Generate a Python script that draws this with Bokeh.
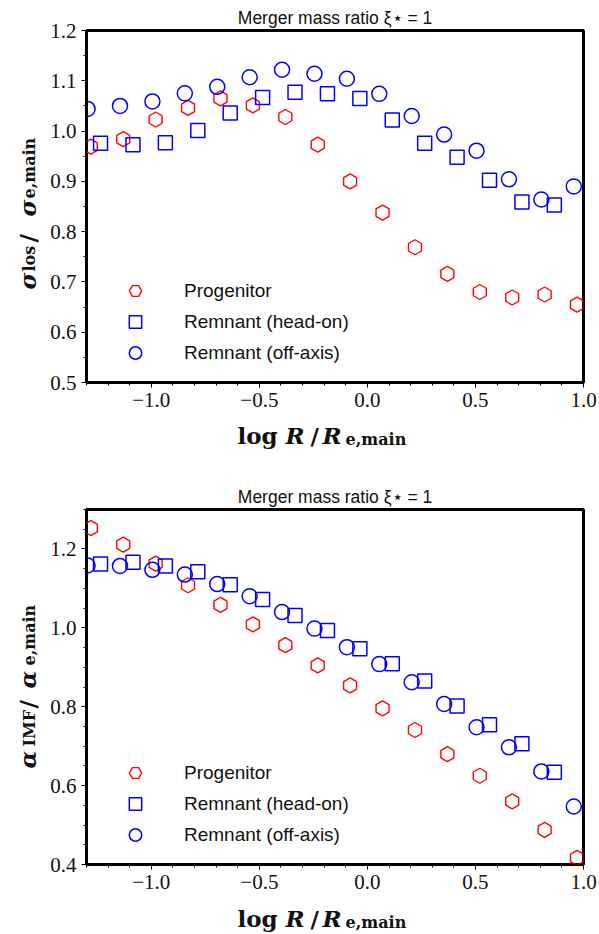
import numpy as np
from bokeh.plotting import figure
from bokeh.layouts import column, row
from bokeh.models import Range1d, FixedTicker, Label, Legend, LegendItem, Title
from bokeh.embed import file_html
from bokeh.resources import INLINE

# ---------------- data ----------------
logR_prog = [-1.28, -1.13, -0.98, -0.83, -0.68, -0.53, -0.38, -0.23, -0.08,
             0.07, 0.22, 0.37, 0.52, 0.67, 0.82, 0.97]
logR_head = [-1.235, -1.085, -0.935, -0.785, -0.635, -0.485, -0.335, -0.185,
             -0.035, 0.115, 0.265, 0.415, 0.565, 0.715, 0.865]
logR_off = [-1.295, -1.145, -0.995, -0.845, -0.695, -0.545, -0.395, -0.245,
            -0.095, 0.055, 0.205, 0.355, 0.505, 0.655, 0.805, 0.955]

sigma_prog = [0.969, 0.984, 1.023, 1.046, 1.065, 1.051, 1.028, 0.973, 0.900,
              0.838, 0.769, 0.716, 0.680, 0.669, 0.675, 0.655]
sigma_head = [0.976, 0.973, 0.977, 1.001, 1.036, 1.067, 1.077, 1.074, 1.065,
              1.022, 0.976, 0.948, 0.902, 0.859, 0.853]
sigma_off = [1.044, 1.050, 1.059, 1.075, 1.088, 1.107, 1.122, 1.114, 1.104,
             1.074, 1.030, 0.993, 0.961, 0.904, 0.864, 0.890]

alpha_prog = [1.253, 1.211, 1.163, 1.108, 1.058, 1.009, 0.956, 0.905, 0.854,
              0.796, 0.741, 0.680, 0.625, 0.560, 0.488, 0.417]
alpha_head = [1.162, 1.166, 1.157, 1.142, 1.109, 1.072, 1.031, 0.993, 0.947,
              0.909, 0.865, 0.802, 0.754, 0.706, 0.634]
alpha_off = [1.158, 1.157, 1.147, 1.135, 1.111, 1.080, 1.040, 0.998, 0.951,
             0.908, 0.862, 0.807, 0.748, 0.697, 0.636, 0.547]

series_names = ["Progenitor", "Remnant (head-on)", "Remnant (off-axis)"]
title_text = "Merger mass ratio \u03be\u22c6 = 1"

x_ticks = [-1.0, -0.5, 0.0, 0.5, 1.0]
x_tick_labels = ["\u22121.0", "\u22120.5", "0.0", "0.5", "1.0"]
y1_ticks = [0.5, 0.6, 0.7, 0.8, 0.9, 1.0, 1.1, 1.2]
y1_tick_labels = ["0.5", "0.6", "0.7", "0.8", "0.9", "1.0", "1.1", "1.2"]
y2_ticks = [0.4, 0.6, 0.8, 1.0, 1.2]
y2_tick_labels = ["0.4", "0.6", "0.8", "1.0", "1.2"]

RED = "#ff0000"
BLUE = "#0000ff"
SERIF = "Liberation Serif"
MATH = "DejaVu Serif"
SANS = "Liberation Sans"
TXT = "#111111"

PANEL_H = 467       # height of each of the two stacked panels
YLAB_W = 45         # width of the strip holding the vertical axis label
MAIN_W = 599 - YLAB_W
FRAME_LEFT = 86     # page x of the frame's left edge
FRAME_RIGHT = 583
BL = FRAME_LEFT - YLAB_W
BR = 599 - FRAME_RIGHT
MS, SS = 23, 16     # math main / subscript font sizes


def make_main(height, border_top, border_bottom, yr, yticks, ylabels, yminor):
    p = figure(width=MAIN_W, height=height, output_backend="svg", toolbar_location=None,
               x_range=Range1d(-1.3, 1.0), y_range=Range1d(*yr),
               min_border_left=BL, min_border_right=BR,
               min_border_top=border_top, min_border_bottom=border_bottom)
    p.grid.visible = False
    p.background_fill_color = "white"
    p.border_fill_color = "white"
    p.outline_line_color = "black"
    p.outline_line_width = 3
    p.xaxis.ticker = FixedTicker(ticks=x_ticks,
                                 minor_ticks=list(np.round(np.arange(-1.3, 1.0001, 0.1), 2)))
    p.xaxis.major_label_overrides = dict(zip(x_ticks, x_tick_labels))
    p.yaxis.ticker = FixedTicker(ticks=yticks, minor_ticks=yminor)
    p.yaxis.major_label_overrides = dict(zip(yticks, ylabels))
    for ax in (p.xaxis[0], p.yaxis[0]):
        ax.axis_line_color = None
        ax.major_tick_in = 0
        ax.major_tick_out = 5
        ax.minor_tick_in = 0
        ax.minor_tick_out = 3
        ax.major_tick_line_color = "black"
        ax.minor_tick_line_color = "black"
        ax.major_tick_line_width = 1
        ax.minor_tick_line_width = 1
        ax.major_label_text_font = SERIF
        ax.major_label_text_font_size = "21px"
        ax.major_label_text_color = TXT
        ax.major_label_standoff = 5
    t = Title(text=title_text, align="center", text_font=SANS, text_font_size="17.5px",
              text_font_style="normal", text_color=TXT, standoff=5)
    p.add_layout(t, "above")
    return p


def add_points(p, yp, yh, yo, legend_y):
    r1 = p.scatter(logR_prog, yp, marker="hex", size=15, angle=np.pi / 2,
                   fill_color=None, line_color=RED, line_width=1.4)
    r2 = p.scatter(logR_head, yh, marker="square", size=14,
                   fill_color=None, line_color=BLUE, line_width=1.5)
    r3 = p.scatter(logR_off, yo, marker="circle", size=15,
                   fill_color=None, line_color=BLUE, line_width=1.5)
    leg = Legend(items=[LegendItem(label=series_names[0], renderers=[r1]),
                        LegendItem(label=series_names[1], renderers=[r2]),
                        LegendItem(label=series_names[2], renderers=[r3])],
                 location=(30, legend_y), orientation="vertical",
                 glyph_width=38, glyph_height=31, spacing=0,
                 label_standoff=30, padding=0, margin=0,
                 border_line_alpha=0, background_fill_alpha=0,
                 label_text_font=SANS, label_text_font_size="19px",
                 label_text_color=TXT)
    p.add_layout(leg)


def text_strip(width, height, bl, br, bt, bb):
    s = figure(width=width, height=height, output_backend="svg", toolbar_location=None,
               x_range=Range1d(0, 1), y_range=Range1d(0, 1),
               x_axis_type=None, y_axis_type=None,
               min_border_left=bl, min_border_right=br,
               min_border_top=bt, min_border_bottom=bb)
    s.grid.visible = False
    s.outline_line_color = None
    s.background_fill_color = "white"
    s.border_fill_color = "white"
    return s


def put(s, fx, fy, text, font, size, style="normal", angle=0.0):
    # fx: pixels right of the strip frame's left edge; fy: pixels above its bottom edge
    s.add_layout(Label(x=fx, y=fy, x_units="screen", y_units="screen",
                       text=text, text_font=font, text_font_size=f"{size}px",
                       text_font_style=style, text_color=TXT,
                       angle=angle, text_align="left", text_baseline="alphabetic"))


def xlabel(s, base_above_bottom):
    # "log R / R_e,main" ; x positions are page x minus frame left
    b = base_above_bottom
    put(s, 237 - FRAME_LEFT, b, "log", MATH, MS, "bold")
    put(s, 285 - FRAME_LEFT, b, "R", MATH, MS, "bold italic")
    put(s, 310 - FRAME_LEFT, b, "/", MATH, MS, "bold")
    put(s, 322 - FRAME_LEFT, b, "R", MATH, MS, "bold italic")
    put(s, 345 - FRAME_LEFT, b - 4, "e,main", MATH, SS, "bold")


def ylabel(s, fb, pieces):
    for text, X, Y, size, style in pieces:
        put(s, X, fb - Y, text, MATH, size, style, np.pi / 2)


# ---------------- top panel ----------------
M1_H, F1_TOP, F1_BOT = 415, 30, 382
main1 = make_main(M1_H, F1_TOP, M1_H - F1_BOT, (0.5, 1.2), y1_ticks, y1_tick_labels,
                  list(np.round(np.arange(0.55, 1.2, 0.1), 2)))
add_points(main1, sigma_prog, sigma_head, sigma_off, 14)
xl1 = text_strip(MAIN_W, PANEL_H - M1_H, BL, BR, 0, 0)
xlabel(xl1, (PANEL_H - M1_H) - (435 - M1_H))
yl1 = text_strip(YLAB_W, PANEL_H, 0, 0, F1_TOP, PANEL_H - F1_BOT)
ylabel(yl1, F1_BOT, [
    ("\u03c3", 27, 289, MS, "bold italic"),
    ("los", 29, 271, SS, "bold"),
    ("/", 27, 242, MS, "bold"),
    ("\u03c3", 27, 216, MS, "bold italic"),
    ("e,main", 29, 198, SS, "bold"),
])

# ---------------- bottom panel ----------------
M2_H, F2_TOP, F2_BOT = 430, 42, 397
main2 = make_main(M2_H, F2_TOP, M2_H - F2_BOT, (0.4, 1.3), y2_ticks, y2_tick_labels,
                  list(np.round(np.arange(0.45, 1.3001, 0.05), 2)))
add_points(main2, alpha_prog, alpha_head, alpha_off, 14)
xl2 = text_strip(MAIN_W, PANEL_H - M2_H, BL, BR, 0, 0)
xlabel(xl2, (PANEL_H - M2_H) - (918 - PANEL_H - M2_H))
yl2 = text_strip(YLAB_W, PANEL_H, 0, 0, F2_TOP, PANEL_H - F2_BOT)
ylabel(yl2, F2_BOT, [
    ("\u03b1", 27, 768 - PANEL_H, MS, "bold italic"),
    ("IMF", 29, 746 - PANEL_H, SS, "bold"),
    ("/", 27, 708 - PANEL_H, MS, "bold"),
    ("\u03b1", 27, 688 - PANEL_H, MS, "bold italic"),
    ("e,main", 29, 665 - PANEL_H, SS, "bold"),
])

layout = column(
    row(yl1, column(main1, xl1, spacing=0), spacing=0),
    row(yl2, column(main2, xl2, spacing=0), spacing=0),
    spacing=0,
)
open("out.html", "w").write(file_html(layout, INLINE))
